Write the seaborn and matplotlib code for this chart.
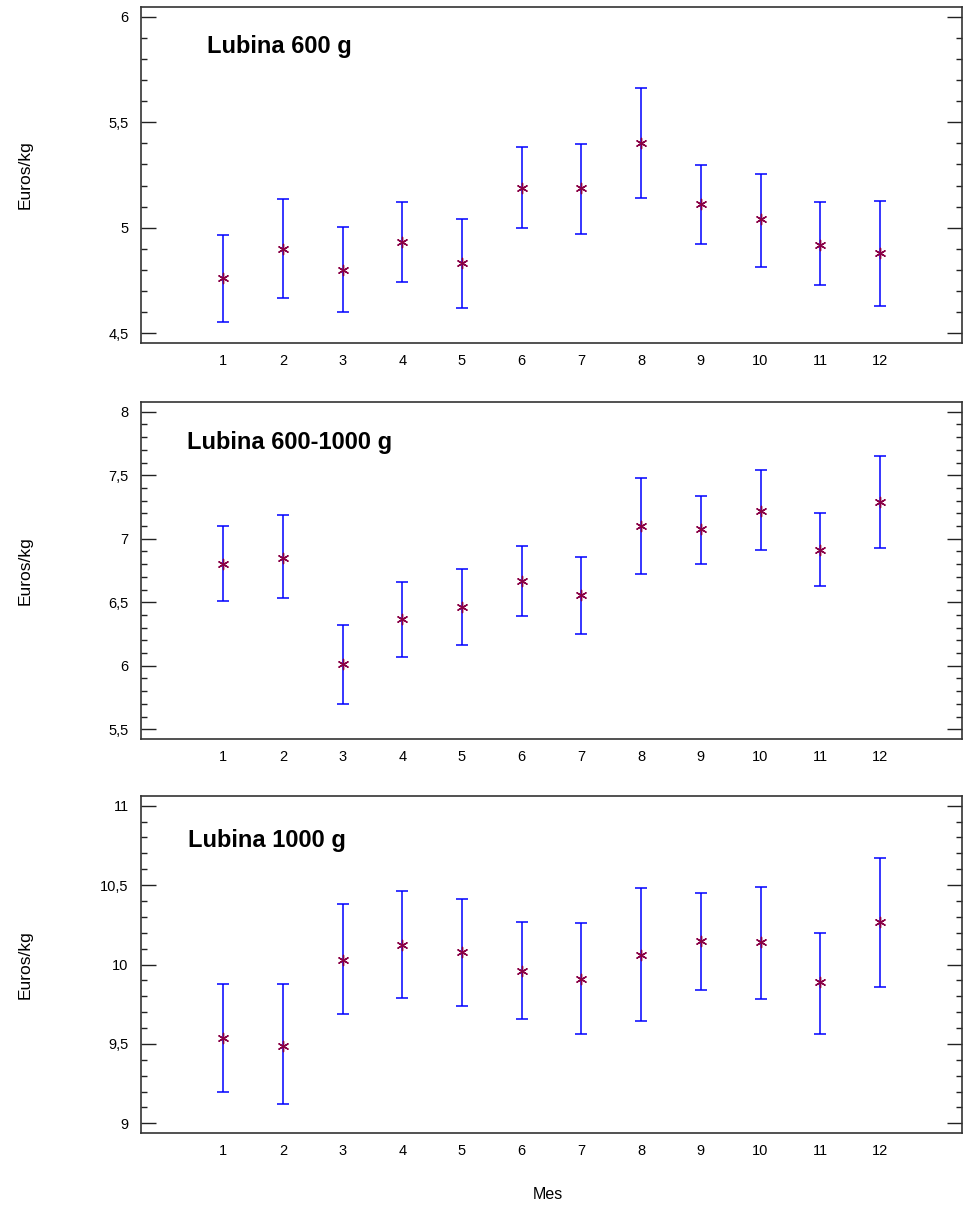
import numpy as np
import pandas as pd
import matplotlib
matplotlib.use("Agg")
import matplotlib.pyplot as plt
from matplotlib.ticker import MultipleLocator, FuncFormatter
import seaborn as sns

# Datos (medias e intervalos por mes)
meses = list(range(1, 13))

l600_media = [4.76, 4.90, 4.80, 4.93, 4.83, 5.19, 5.19, 5.40, 5.11, 5.04, 4.92, 4.88]
l600_sup = [4.965, 5.136, 5.003, 5.120, 5.040, 5.382, 5.397, 5.664, 5.297, 5.254, 5.120, 5.125]
l600_inf = [4.552, 4.668, 4.599, 4.743, 4.621, 5.000, 4.972, 5.141, 4.924, 4.812, 4.727, 4.628]

l600_1000_media = [6.80, 6.85, 6.01, 6.37, 6.46, 6.67, 6.56, 7.10, 7.08, 7.22, 6.91, 7.29]
l600_1000_sup = [7.10, 7.19, 6.32, 6.66, 6.76, 6.945, 6.86, 7.475, 7.34, 7.54, 7.20, 7.65]
l600_1000_inf = [6.51, 6.53, 5.70, 6.07, 6.16, 6.395, 6.25, 6.72, 6.80, 6.91, 6.625, 6.93]

l1000_media = [9.54, 9.49, 10.03, 10.125, 10.08, 9.96, 9.91, 10.06, 10.15, 10.14, 9.89, 10.265]
l1000_sup = [9.88, 9.88, 10.38, 10.46, 10.41, 10.27, 10.26, 10.48, 10.45, 10.49, 10.20, 10.67]
l1000_inf = [9.20, 9.12, 9.69, 9.79, 9.74, 9.66, 9.565, 9.645, 9.84, 9.785, 9.56, 9.86]

titulos = ["Lubina 600 g", "Lubina 600-1000 g", "Lubina 1000 g"]

sns.set_style("white")
plt.rcParams['font.family'] = ['Liberation Sans', 'DejaVu Sans']
plt.rcParams['text.color'] = 'black'
plt.rcParams['axes.labelcolor'] = 'black'
plt.rcParams['xtick.color'] = 'black'
plt.rcParams['ytick.color'] = 'black'

fig = plt.figure(figsize=(9.64, 12.08), dpi=100)

# posiciones de los paneles [izq, abajo, ancho, alto]
posiciones = [
    [0.1463, 0.7161, 0.8517, 0.2781],
    [0.1463, 0.3880, 0.8517, 0.2795],
    [0.1463, 0.0618, 0.8517, 0.2795],
]
limites = [(4.453, 6.047), (5.421, 8.079), (8.937, 11.063)]
pos_titulo = [(0.080, 0.862), (0.0557, 0.859), (0.0569, 0.847)]

series = [
    (l600_media, l600_sup, l600_inf),
    (l600_1000_media, l600_1000_sup, l600_1000_inf),
    (l1000_media, l1000_sup, l1000_inf),
]

coma = FuncFormatter(lambda v, p: f"{v:g}".replace('.', ','))

for i, (media, sup, inf) in enumerate(series):
    ax = fig.add_axes(posiciones[i])
    df = pd.DataFrame({"Mes": meses, "Media": media, "Sup": sup, "Inf": inf})

    # Barras de error
    ax.errorbar(df["Mes"], df["Media"],
                yerr=[df["Media"] - df["Inf"], df["Sup"] - df["Media"]],
                fmt='none', ecolor='#0000ff', elinewidth=1.1,
                capsize=4.5, capthick=1.1, zorder=2)
    # Medias
    sns.scatterplot(data=df, x="Mes", y="Media", ax=ax, marker=(6, 2, 0),
                    color='#8a0045', s=55, linewidth=1.0, zorder=3)

    ax.set_xlim(-0.375, 13.375)
    ax.set_ylim(*limites[i])
    ax.set_xticks(meses)
    ax.yaxis.set_major_locator(MultipleLocator(0.5))
    ax.yaxis.set_minor_locator(MultipleLocator(0.1))
    ax.yaxis.set_major_formatter(coma)

    ax.tick_params(axis='y', which='major', direction='in', length=11,
                   width=1, color='#222222', left=True, right=True,
                   labelsize=10.5, pad=9)
    ax.tick_params(axis='y', which='minor', direction='in', length=4.5,
                   width=1, color='#222222', left=True, right=True)
    ax.tick_params(axis='x', length=0, labelsize=10.5, pad=8)

    for s in ax.spines.values():
        s.set_color('#333333')
        s.set_linewidth(1.2)

    ax.set_ylabel("Euros/kg", fontsize=12.5)
    ax.yaxis.set_label_coords(-0.132, 0.5)
    if i == 2:
        ax.set_xlabel("Mes", fontsize=11.5)
        ax.xaxis.set_label_coords(0.4957, -0.158)
    else:
        ax.set_xlabel("")

    ax.text(pos_titulo[i][0], pos_titulo[i][1], titulos[i], transform=ax.transAxes,
            fontsize=17, fontweight='bold', ha='left', va='baseline', color='black')

fig.savefig("out.png", dpi=100)
